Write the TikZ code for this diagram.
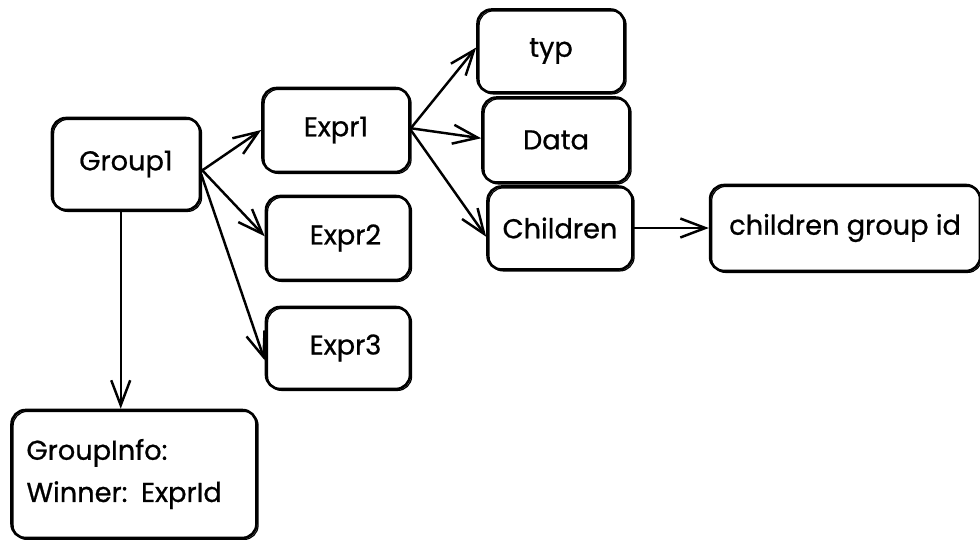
\documentclass[tikz,border=0pt]{standalone}
\usepackage{fontspec}
\setmainfont{Poppins}
\newfontfamily\sketchfont{Poppins}[FakeBold=0.8]
\usepackage{tikz}
\usetikzlibrary{arrows.meta, positioning}

\begin{document}
\begin{tikzpicture}[
    x=0.02cm, y=-0.02cm,
    sketch/.style={postaction={draw, line width=0.7pt, transform canvas={shift={(0.9pt,-0.8pt)}}}},
    box/.style={draw, line width=1.5pt, rounded corners=8pt, inner sep=2pt,
                font=\sketchfont\fontsize{15.5}{24}\selectfont, sketch},
    smallbox/.style={box, minimum width=2.94cm, minimum height=1.68cm},
    link/.style={line width=1.4pt, line cap=round, line join=round,
                 -{Straight Barb[length=5mm, width=3.8mm, line width=1.4pt]}},
    ]

    \useasboundingbox (0,0) rectangle (980,539);

    % group and its expressions
    \node[box, minimum width=2.96cm, minimum height=1.84cm] (group1) at (126,164) {Group1};
    \node[smallbox] (expr1) at (336,130) {Expr1};
    \node[smallbox, minimum width=2.88cm] (expr2) at (338,238) {\hspace{0.3cm}Expr2};
    \node[smallbox, minimum width=2.88cm, minimum height=1.64cm] (expr3) at (338,348) {\hspace{0.3cm}Expr3};

    % fields of Expr1
    \node[smallbox, minimum height=1.66cm] (typ) at (551,51) {typ};
    \node[smallbox, minimum height=1.7cm] (data) at (556,140) {Data};
    \node[smallbox, minimum width=2.9cm, minimum height=1.66cm] (children) at (560,228) {Children};
    \node[box, minimum width=5.4cm, minimum height=1.72cm, right=1.5cm of children] (childid) {children group id};

    % group info
    \node[box, minimum width=4.9cm, minimum height=2.56cm, text width=4.3cm, align=left] (info) at (134,474)
        {GroupInfo:\\Winner: ExprId};

    % Arrows
    \draw[link] ([yshift=-4pt]group1.east) -- (expr1.west);
    \draw[link] ([yshift=-3pt]group1.east) -- ([yshift=1pt]expr2.west);
    \draw[link] ([yshift=-6pt]group1.east) -- ([yshift=-7pt]expr3.west);
    \draw[link] ([xshift=-3pt]group1.south) -- ([xshift=-3pt]group1.south |- info.north);
    \draw[link] ([yshift=1pt]expr1.east) -- ([yshift=2pt]typ.west);
    \draw[link] ([yshift=1pt]expr1.east) -- ([yshift=1pt]data.west);
    \draw[link] (expr1.east) -- ([yshift=-5pt]children.west);
    \draw[link] (children.east) -- (childid.west);
\end{tikzpicture}
\end{document}
